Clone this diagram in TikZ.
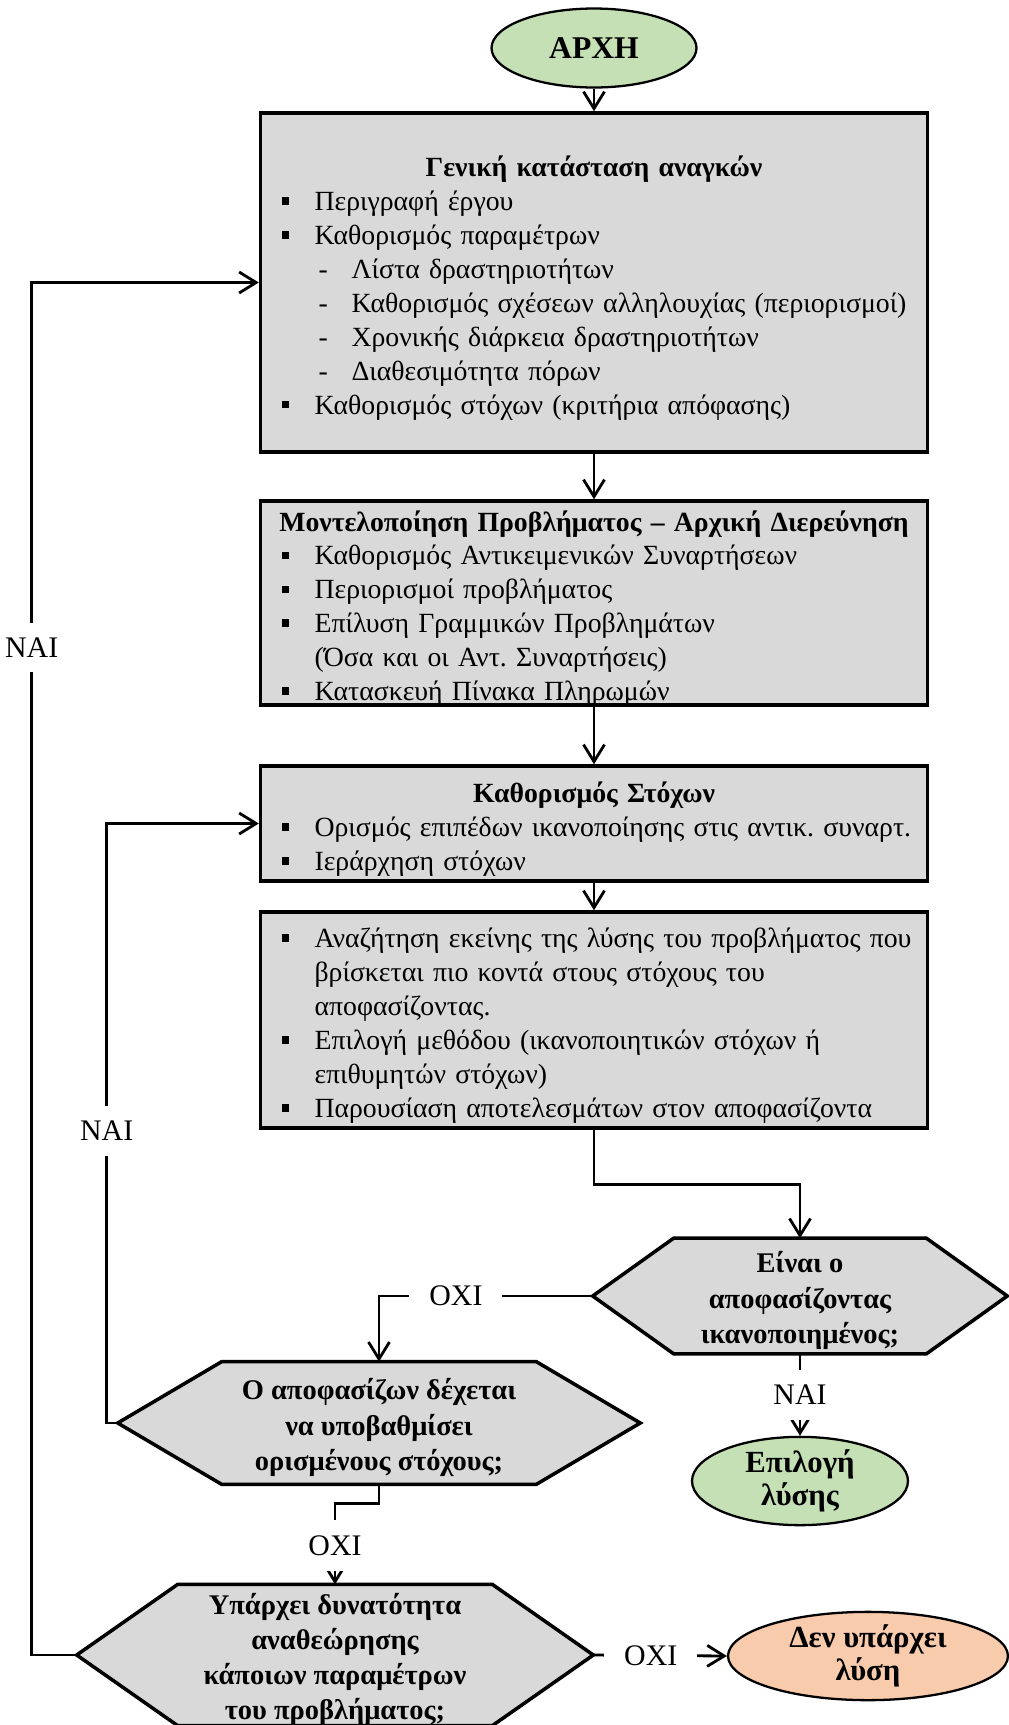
\documentclass[tikz,border=0pt]{standalone}
\usepackage{fontspec}
\setmainfont{Liberation Serif}
\usetikzlibrary{arrows.meta,positioning,calc,backgrounds,shapes.geometric}

\definecolor{boxgray}{HTML}{D9D9D9}
\definecolor{startgreen}{HTML}{C5E0B4}
\definecolor{endorange}{HTML}{F8CBAD}

\frenchspacing
% list helpers for the boxes
\newcommand{\itm}{\hspace*{0.2cm}\makebox[0.66cm][l]{\rule[0.2em]{0.28em}{0.28em}}}
\newcommand{\subitm}{\hspace*{0.94cm}\makebox[0.66cm][l]{-}}
\newcommand{\cont}{\hspace*{0.86cm}}
\newcommand{\boxtitle}[1]{\makebox[\linewidth][c]{\bfseries #1}}
\newcommand{\boxend}{\par\kern-0.22cm}
% decision text, set a little lower
\newcommand{\dectext}[1]{\raisebox{-0.1cm}[\height][\depth]{\begin{tabular}{@{}c@{}}#1\end{tabular}}}
% hexagon behind a decision node
\newcommand{\hexback}[2]{%
  \begin{scope}[on background layer]
    \draw[hexline] (#1.west) -- ([xshift=#2]#1.north west) -- ([xshift=-#2]#1.north east)
      -- (#1.east) -- ([xshift=-#2]#1.south east) -- ([xshift=#2]#1.south west) -- cycle;
  \end{scope}}

\tikzset{
  stepbox/.style={draw, line width=2pt, fill=boxgray, minimum width=13.34cm,
    text width=12.9cm, inner xsep=0.22cm, inner ysep=0.02cm, align=left,
    font=\fontsize{15.8}{19.3}\selectfont},
  decide/.style={inner sep=0pt, align=center, font=\bfseries\fontsize{16.2}{20}\selectfont},
  hexline/.style={line width=2pt, fill=boxgray},
  term/.style={ellipse, draw, line width=1.3pt, inner sep=0pt, align=center,
    font=\bfseries\fontsize{17.5}{18.8}\selectfont},
  arr/.style={line width=1.6pt, -{Straight Barb[length=0.34cm,width=0.42cm]}},
  lbl/.style={fill=white, inner xsep=0.4cm, inner ysep=0.3cm, font=\fontsize{17}{19}\selectfont}
}

\begin{document}
\begin{tikzpicture}[x=0.02cm,y=-0.02cm]
\useasboundingbox (0,0) rectangle (1008,1725);

\node[term, fill=startgreen, minimum width=4.1cm, minimum height=1.58cm,
  font=\bfseries\fontsize{18}{20}\selectfont] (start) at (594,48) {ΑΡΧΗ};

\node[stepbox, minimum height=6.78cm] (needs) at (594,282.5) {%
\boxtitle{Γενική κατάσταση αναγκών}\\
\itm Περιγραφή έργου\\
\itm Καθορισμός παραμέτρων\\
\subitm Λίστα δραστηριοτήτων\\
\subitm Καθορισμός σχέσεων αλληλουχίας (περιορισμοί)\\
\subitm Χρονικής διάρκεια δραστηριοτήτων\\
\subitm Διαθεσιμότητα πόρων\\
\itm Καθορισμός στόχων (κριτήρια απόφασης)\boxend};

\node[stepbox, minimum height=4.08cm] (model) at (594,603) {%
\boxtitle{Μοντελοποίηση Προβλήματος – Αρχική Διερεύνηση}\\
\itm Καθορισμός Αντικειμενικών Συναρτήσεων\\
\itm Περιορισμοί προβλήματος\\
\itm Επίλυση Γραμμικών Προβλημάτων\\
\cont (Όσα και οι Αντ. Συναρτήσεις)\\
\itm Κατασκευή Πίνακα Πληρωμών\boxend};

\node[stepbox, minimum height=2.3cm] (goals) at (594,823.5) {%
\boxtitle{Καθορισμός Στόχων}\\
\itm Ορισμός επιπέδων ικανοποίησης στις αντικ. συναρτ.\\
\itm Ιεράρχηση στόχων\boxend};

\node[stepbox, minimum height=4.32cm] (search) at (594,1020) {%
\itm Αναζήτηση εκείνης της λύσης του προβλήματος που\\
\cont βρίσκεται πιο κοντά στους στόχους του\\
\cont αποφασίζοντας.\\
\itm Επιλογή μεθόδου (ικανοποιητικών στόχων ή\\
\cont επιθυμητών στόχων)\\
\itm Παρουσίαση αποτελεσμάτων στον αποφασίζοντα\boxend};

% decisions
\node[decide, minimum width=8.28cm, minimum height=2.3cm] (satisfied) at (800,1296)
  {\dectext{Είναι ο\\αποφασίζοντας\\ικανοποιημένος;}};
\hexback{satisfied}{1.62cm}
\node[decide, minimum width=10.44cm, minimum height=2.44cm] (relax) at (379,1423)
  {\dectext{Ο αποφασίζων δέχεται\\να υποβαθμίσει\\ορισμένους στόχους;}};
\hexback{relax}{2.08cm}
\node[decide, minimum width=10.32cm, minimum height=2.8cm] (revise) at (335,1655)
  {\dectext{Υπάρχει δυνατότητα\\αναθεώρησης\\κάποιων παραμέτρων\\του προβλήματος;}};
\hexback{revise}{2.02cm}

\node[term, fill=startgreen, minimum width=4.32cm, minimum height=1.76cm] (choose) at (800,1481)
  {Επιλογή\\λύσης};
\node[term, fill=endorange, minimum width=5.6cm, minimum height=1.76cm] (nosol) at (868,1656)
  {Δεν υπάρχει\\λύση};

% connectors
\draw[arr] (start) -- (needs);
\draw[arr] (needs) -- (model);
\draw[arr] (model) -- (goals);
\draw[arr] (goals) -- (search);
\draw[arr] (search.south) -- ++(0,55) -| (satisfied.north);
\draw[arr] (satisfied.west) -| node[lbl,pos=0.32]{ΟΧΙ} (relax.north);
\draw[arr] (satisfied.south) -- node[lbl]{ΝΑΙ} (choose.north);
\draw[arr] (relax.west) -- ++(-11,0) |- node[lbl,pos=0.2435]{ΝΑΙ} (goals.west);
\draw[arr] (relax.south) -- ++(0,19) -| node[lbl,pos=0.76]{ΟΧΙ} (revise.north);
\draw[arr] (revise.west) -- ++(-45,0) |- node[lbl,pos=0.367]{ΝΑΙ} (needs.west);
\draw[arr] (revise.east) -- node[lbl,pos=0.43]{ΟΧΙ} (nosol.west);
\end{tikzpicture}
\end{document}
